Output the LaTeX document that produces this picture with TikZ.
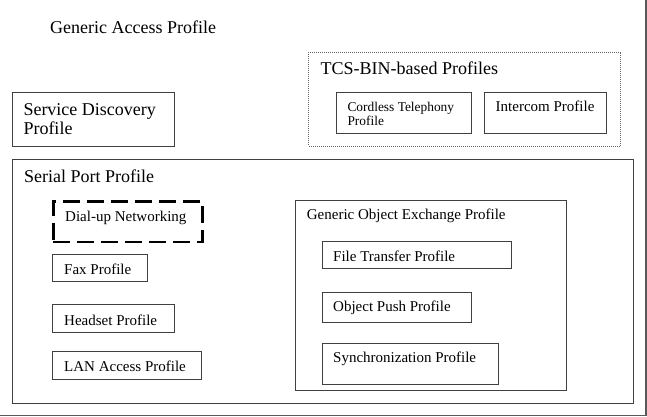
\documentclass[tikz,border=0pt]{standalone}
\usepackage{fontspec}
\setmainfont{Liberation Serif}
\begin{document}
\begin{tikzpicture}[x=1pt,y=-1pt,
  box/.style={draw=black!75,line width=1.1pt,inner sep=0pt,anchor=north west},
  dialbox/.style={draw=black,line width=2.6pt,dash pattern=on 17pt off 7pt,inner sep=0pt,anchor=north west},
  tcsbox/.style={draw=black!60,line width=0.9pt,dash pattern=on 1pt off 1pt,inner sep=0pt,anchor=north west},
  frameline/.style={draw=black!65,line width=1.6pt},
  lbl/.style={anchor=base west,inner sep=0pt,font=\fontsize{15}{18}\selectfont},
  biglbl/.style={anchor=base west,inner sep=0pt,font=\fontsize{18}{22}\selectfont},
  smalllbl/.style={anchor=base west,inner sep=0pt,font=\fontsize{13.4}{16}\selectfont}]
\useasboundingbox (0,0) rectangle (647,417);
% outer frame (right and bottom only)
\coordinate (ftr) at (646,0);
\coordinate (fbr) at (646,415.5);
\coordinate (fbl) at (0,415.5);
\draw[frameline] (ftr) -- (fbr) -- (fbl);

\node[biglbl] (gap) at (50,33.3) {Generic Access Profile};

% TCS-BIN
\node[tcsbox,minimum width=312pt,minimum height=94pt] (tcs) at (308.3,51.7) {};
\node[biglbl] (tcsl) at (320.5,75) {TCS-BIN-based Profiles};
\node[box,minimum width=135.3pt,minimum height=40.4pt] (ctp) at (335.7,92.3) {};
\node[smalllbl] (ctpl1) at (347.3,111.5) {Cordless Telephony};
\node[smalllbl] (ctpl2) at (347.3,125.5) {Profile};
\node[box,minimum width=122pt,minimum height=40.4pt] (icp) at (484,92.3) {};
\node[lbl] (icpl) at (495.5,111.7) {Intercom Profile};

% Service Discovery
\node[box,minimum width=162.3pt,minimum height=53.7pt] (sdp) at (11.7,92.3) {};
\node[biglbl] (sdpl1) at (23.3,115) {Service Discovery};
\node[biglbl] (sdpl2) at (23.3,135) {Profile};

% Serial Port
\node[box,minimum width=621pt,minimum height=244pt] (spp) at (11.5,159) {};
\node[biglbl] (sppl) at (24,182.5) {Serial Port Profile};

\node[dialbox,minimum width=149pt,minimum height=40.5pt] (dun) at (52,200) {};
\node[lbl] (dunl) at (65,221.5) {Dial-up Networking};
\node[box,minimum width=95pt,minimum height=27pt] (fax) at (52,254) {};
\node[lbl] (faxl) at (64,274) {Fax Profile};
\node[box,minimum width=122pt,minimum height=27.5pt] (hsp) at (52,304.3) {};
\node[lbl] (hspl) at (64,325) {Headset Profile};
\node[box,minimum width=149pt,minimum height=27.5pt] (lap) at (52,351) {};
\node[lbl] (lapl) at (64,371.5) {LAN Access Profile};

% GOEP
\node[box,minimum width=270.5pt,minimum height=189.5pt] (goep) at (295,200) {};
\node[lbl] (goepl) at (306.7,219.3) {Generic Object Exchange Profile};
\node[box,minimum width=189.5pt,minimum height=27.5pt] (ftp) at (321.7,240.7) {};
\node[lbl] (ftpl) at (333,261) {File Transfer Profile};
\node[box,minimum width=149.5pt,minimum height=29.5pt] (opp) at (321.7,292.3) {};
\node[lbl] (oppl) at (333,311.5) {Object Push Profile};
\node[box,minimum width=176.5pt,minimum height=40.5pt] (syn) at (321.7,343.3) {};
\node[lbl] (synl) at (333,362.5) {Synchronization Profile};
\end{tikzpicture}
\end{document}
